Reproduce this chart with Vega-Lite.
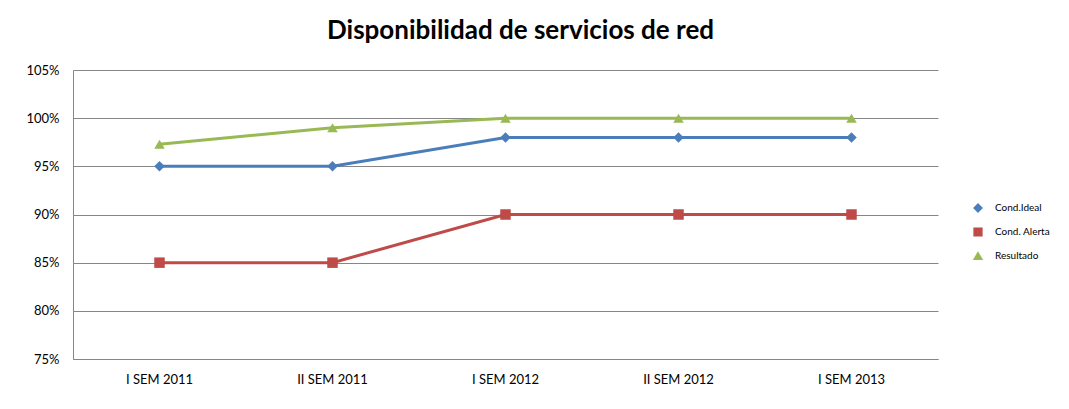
{
  "$schema": "https://vega.github.io/schema/vega-lite/v6.json",
  "autosize": "none",
  "width": 865,
  "height": 289,
  "padding": {"left": 73, "top": 70, "right": 131, "bottom": 50},
  "background": "white",
  "title": {
    "text": "Disponibilidad de servicios de red",
    "font": "Lato",
    "fontSize": 26,
    "fontWeight": "bold",
    "color": "#000000",
    "anchor": "middle",
    "dx": 15,
    "offset": 20
  },
  "data": {
    "values": [
      {"sem": "I SEM 2011", "serie": "Cond.Ideal", "v": 0.95},
      {"sem": "II SEM 2011", "serie": "Cond.Ideal", "v": 0.95},
      {"sem": "I SEM 2012", "serie": "Cond.Ideal", "v": 0.98},
      {"sem": "II SEM 2012", "serie": "Cond.Ideal", "v": 0.98},
      {"sem": "I SEM 2013", "serie": "Cond.Ideal", "v": 0.98},
      {"sem": "I SEM 2011", "serie": "Cond. Alerta", "v": 0.85},
      {"sem": "II SEM 2011", "serie": "Cond. Alerta", "v": 0.85},
      {"sem": "I SEM 2012", "serie": "Cond. Alerta", "v": 0.90},
      {"sem": "II SEM 2012", "serie": "Cond. Alerta", "v": 0.90},
      {"sem": "I SEM 2013", "serie": "Cond. Alerta", "v": 0.90},
      {"sem": "I SEM 2011", "serie": "Resultado", "v": 0.973},
      {"sem": "II SEM 2011", "serie": "Resultado", "v": 0.99},
      {"sem": "I SEM 2012", "serie": "Resultado", "v": 1.0},
      {"sem": "II SEM 2012", "serie": "Resultado", "v": 1.0},
      {"sem": "I SEM 2013", "serie": "Resultado", "v": 1.0}
    ]
  },
  "encoding": {
    "x": {
      "field": "sem",
      "type": "nominal",
      "sort": null,
      "scale": {"type": "band", "paddingInner": 0, "paddingOuter": 0},
      "axis": {
        "title": null,
        "labelAngle": 0,
        "labelFont": "Lato",
        "labelFontSize": 13,
        "labelColor": "#000000",
        "labelPadding": 14,
        "domainColor": "#868686",
        "ticks": false,
        "grid": false
      }
    },
    "y": {
      "field": "v",
      "type": "quantitative",
      "scale": {"domain": [0.75, 1.05], "nice": false, "zero": false},
      "axis": {
        "title": null,
        "format": ".0%",
        "values": [0.75, 0.8, 0.85, 0.9, 0.95, 1.0, 1.05],
        "labelFont": "Lato",
        "labelFontSize": 13,
        "labelColor": "#000000",
        "labelPadding": 14,
        "domainColor": "#868686",
        "ticks": false,
        "grid": true,
        "gridColor": "#868686",
        "gridWidth": 1
      }
    },
    "color": {
      "field": "serie",
      "type": "nominal",
      "sort": ["Cond.Ideal", "Cond. Alerta", "Resultado"],
      "scale": {
        "domain": ["Cond.Ideal", "Cond. Alerta", "Resultado"],
        "range": ["#4A7EBB", "#BE4B48", "#98B954"]
      },
      "legend": {
        "title": null,
        "orient": "none",
        "legendX": 900,
        "legendY": 133,
        "labelFont": "Lato",
        "labelFontSize": 10,
        "labelColor": "#000000",
        "labelOffset": 12,
        "rowPadding": 10,
        "symbolSize": 60
      }
    }
  },
  "layer": [
    {
      "mark": {"type": "line", "strokeWidth": 3},
      "encoding": {"detail": {"field": "serie"}}
    },
    {
      "mark": {"type": "point", "filled": true, "opacity": 1, "size": 110},
      "encoding": {
        "shape": {
          "field": "serie",
          "type": "nominal",
          "sort": ["Cond.Ideal", "Cond. Alerta", "Resultado"],
          "scale": {
            "domain": ["Cond.Ideal", "Cond. Alerta", "Resultado"],
            "range": ["diamond", "square", "triangle-up"]
          },
          "legend": {
            "title": null,
            "orient": "none",
            "legendX": 900,
            "legendY": 133,
            "labelFont": "Lato",
            "labelFontSize": 10,
            "labelColor": "#000000",
            "labelOffset": 12,
            "rowPadding": 10,
            "symbolSize": 60
          }
        }
      }
    }
  ],
  "config": {"view": {"stroke": null}}
}
